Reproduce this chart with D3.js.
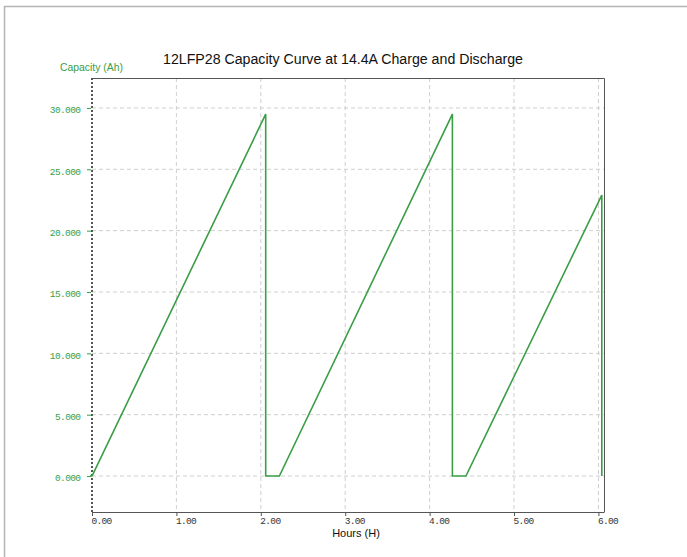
<!DOCTYPE html>
<html><head><meta charset="utf-8">
<script src="https://cdn.jsdelivr.net/npm/d3@7/dist/d3.min.js"></script>
<style>body{margin:0;background:#fff}svg{display:block}</style>
</head><body>
<svg id="c" width="687" height="557"></svg>
<script>
// Data (hours, capacity Ah)
const hours    = [0.00, 2.058, 2.058, 2.22, 4.27, 4.27, 4.43, 6.04, 6.04];
const capacity = [0.0,  29.5,  0.0,   0.0,  29.5, 0.0,  0.0,  22.9, 0.0];
const xTicks = [0, 1, 2, 3, 4, 5, 6];
const yTicks = [0, 5, 10, 15, 20, 25, 30];
const title = "12LFP28 Capacity Curve at 14.4A Charge and Discharge";
const yTitle = "Capacity (Ah)";
const xTitle = "Hours (H)";

const svg = d3.select("#c");
const L = 92, R = 604, T = 78, B = 512;
const x = d3.scaleLinear().domain([0, 6.066]).range([L, R]);
const y = d3.scaleLinear().domain([-2.93, 32.44]).range([B, T]);
const green = "#3a9e46";

// outer frame
svg.append("path").attr("d", `M4.5,557 V6.5 H687`).attr("fill","none").attr("stroke","#b4b4b4").attr("stroke-width",1.5);

// grid
svg.append("g").selectAll("line").data(xTicks.filter(d=>d>0)).join("line")
  .attr("x1",d=>x(d)).attr("x2",d=>x(d)).attr("y1",T).attr("y2",B)
  .attr("stroke","#cfcfcf").attr("stroke-dasharray","4,3");
svg.append("g").selectAll("line").data(yTicks).join("line")
  .attr("x1",L).attr("x2",R).attr("y1",d=>y(d)).attr("y2",d=>y(d))
  .attr("stroke","#cfcfcf").attr("stroke-dasharray","4,3");

// frame top/right
svg.append("path").attr("d",`M${L},${T+0.5} H${R+0.5} V${B}`).attr("fill","none").attr("stroke","#555").attr("stroke-width",1);

// x axis
const xa = svg.append("g").attr("transform",`translate(0,${B})`)
  .call(d3.axisBottom(x).tickValues(xTicks).tickFormat(d3.format(".2f")).tickSize(4).tickPadding(1));
xa.select(".domain").attr("stroke","#555").attr("d",`M${L},0.5H${R+0.5}`);
xa.selectAll(".tick line").attr("stroke","#555");
xa.selectAll("text").attr("font-family","'Liberation Mono', monospace").attr("font-size","9.5px").attr("fill","#333")
  .attr("text-anchor","start").attr("dx","-1").attr("textLength",d=>d3.format(".2f")(d).length*5.2).attr("lengthAdjust","spacing");

// y axis
const ya = svg.append("g").attr("transform",`translate(${L},0)`)
  .call(d3.axisLeft(y).tickValues(yTicks).tickFormat(d3.format(".3f")).tickSize(4).tickPadding(7));
ya.select(".domain").attr("stroke","#555").attr("stroke-width",2).attr("stroke-dasharray","2,2").attr("d",`M0,${T}V${B}`);
ya.selectAll(".tick line").attr("stroke",green).attr("transform","translate(-1,0)");
ya.selectAll("text").attr("font-family","'Liberation Mono', monospace").attr("font-size","9.5px").attr("fill",green).attr("dy","0.5em")
  .attr("textLength",d=>d3.format(".3f")(d).length*5.2).attr("lengthAdjust","spacing");

// line
const line = d3.line().x((d,i)=>x(hours[i])).y((d,i)=>y(capacity[i]));
svg.append("path").datum(capacity).attr("d",line).attr("fill","none").attr("stroke",green).attr("stroke-width",1.6);
// short lead-in at start
svg.append("line").attr("x1",x(0)-2).attr("x2",x(0)).attr("y1",y(0)).attr("y2",y(0)).attr("stroke",green).attr("stroke-width",1.6);

// titles
svg.append("text").attr("x",343).attr("y",64).attr("text-anchor","middle")
  .attr("font-family","'Liberation Sans', Arial, sans-serif").attr("font-size","15.5px").attr("fill","#111")
  .attr("textLength",360).attr("lengthAdjust","spacingAndGlyphs").text(title);
svg.append("text").attr("x",60).attr("y",71)
  .attr("font-family","'Liberation Sans', Arial, sans-serif").attr("font-size","11px").attr("fill",green)
  .attr("textLength",63).attr("lengthAdjust","spacingAndGlyphs").text(yTitle);
svg.append("text").attr("x",356).attr("y",537).attr("text-anchor","middle")
  .attr("font-family","'Liberation Sans', Arial, sans-serif").attr("font-size","11px").attr("fill","#111").text(xTitle);
</script>
</body></html>
